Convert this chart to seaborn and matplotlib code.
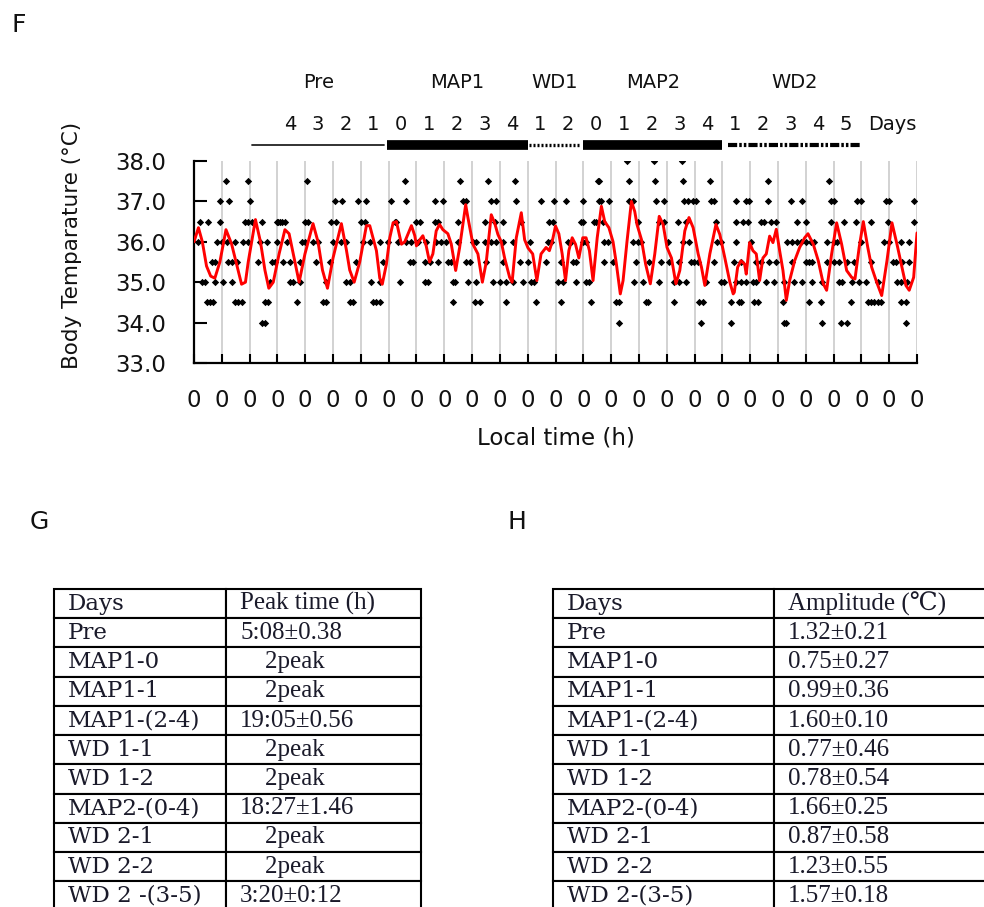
#!/usr/bin/env python3
"""Body temperature time course (F) with peak-time / amplitude tables (G, H)."""

import matplotlib
matplotlib.use("Agg")
import matplotlib.pyplot as plt
import matplotlib.transforms as mtransforms
import pandas as pd
import seaborn as sns

# ---- data -------------------------------------------------------------
# mean body temperature (red trace), x in days from start of record
RED_DAY = [
    0.00, 0.16, 0.30, 0.45, 0.60, 0.75, 0.93, 1.15, 1.35, 1.53, 1.71, 1.85,
    1.95, 2.21, 2.39, 2.55, 2.69, 2.85, 3.06, 3.27, 3.42, 3.63, 3.78, 3.99,
    4.28, 4.46, 4.62, 4.80, 5.00, 5.30, 5.48, 5.60, 5.76, 5.96, 6.20, 6.32,
    6.56, 6.68, 6.77, 6.92, 7.04, 7.16, 7.28, 7.46, 7.58, 7.70, 7.82, 7.94,
    8.00, 8.12, 8.23, 8.35, 8.47, 8.59, 8.71, 8.83, 8.95, 9.13, 9.25, 9.41,
    9.55, 9.67, 9.77, 9.85, 10.03, 10.21, 10.37, 10.51, 10.69, 10.81, 10.93,
    11.05, 11.17, 11.35, 11.44, 11.59, 11.77, 11.89, 12.01, 12.18, 12.33,
    12.48, 12.66, 12.78, 12.88, 13.00, 13.12, 13.24, 13.36, 13.48, 13.60,
    13.72, 13.84, 13.98, 14.10, 14.22, 14.35, 14.50, 14.65, 14.77, 14.92,
    15.07, 15.19, 15.33, 15.43, 15.57, 15.73, 15.85, 15.93, 16.09, 16.24,
    16.41, 16.57, 16.73, 16.87, 17.01, 17.17, 17.33, 17.47, 17.65, 17.80,
    17.95, 18.13, 18.25, 18.37, 18.55, 18.77, 18.91, 19.09, 19.27, 19.39,
    19.43, 19.55, 19.67, 19.80, 19.86, 19.98, 20.10, 20.22, 20.34, 20.46,
    20.58, 20.70, 20.82, 20.94, 21.06, 21.18, 21.30, 21.42, 21.60, 21.78,
    21.96, 22.08, 22.27, 22.45, 22.63, 22.75, 22.93, 23.11, 23.29, 23.47,
    23.65, 23.77, 23.92, 24.07, 24.23, 24.37, 24.55, 24.73, 24.92, 25.10,
    25.28, 25.46, 25.60, 25.72, 25.88, 26.00,
]
RED_TEMP = [
    36.00, 36.35, 36.00, 35.40, 35.15, 35.10, 35.50, 36.30, 35.95, 35.45, 34.95, 35.00,
    35.50, 36.55, 36.00, 35.30, 34.85, 35.00, 35.70, 36.30, 36.20, 35.50, 35.00, 35.70,
    36.45, 36.00, 35.30, 34.85, 35.60, 36.45, 35.80, 35.30, 35.00, 35.50, 36.40, 36.40,
    35.78, 35.10, 34.95, 35.45, 36.10, 36.47, 36.50, 35.94, 36.00, 36.20, 36.40, 36.15,
    35.90, 36.05, 36.15, 35.90, 35.50, 35.70, 36.27, 36.43, 36.30, 36.20, 35.95, 35.29,
    35.85, 36.43, 36.92, 36.60, 35.94, 35.70, 35.00, 35.50, 36.67, 36.47, 36.18,
    36.00, 35.60, 35.12, 35.00, 36.10, 36.72, 36.05, 35.85, 35.70, 35.04,
    35.70, 35.86, 35.78, 36.00, 36.39, 36.20, 35.70, 35.04, 35.78, 36.10,
    35.94, 35.60, 36.10, 36.10, 35.78, 35.04, 36.10, 36.88, 36.50, 36.35,
    36.00, 35.45, 34.71, 35.04, 36.00, 37.00, 36.75, 36.43, 36.06, 35.45,
    34.96, 35.70, 36.63, 36.43, 35.86, 35.60, 34.96, 35.29, 36.27, 36.60,
    36.35, 35.70, 35.37, 34.92, 35.70, 36.43, 36.18, 35.60, 35.00, 34.71,
    34.75, 35.37, 35.53, 35.45, 35.20, 35.98, 35.78, 35.70, 35.04, 35.60,
    35.70, 36.14, 35.98, 36.31, 35.78, 35.29, 34.55, 35.04, 35.53, 35.86,
    36.10, 36.20, 35.94, 35.53, 34.96, 34.80, 35.70, 36.47, 35.94, 35.29,
    35.12, 35.08, 35.86, 36.50, 35.86, 35.37, 35.00, 34.67, 35.53, 36.47,
    35.94, 35.37, 34.92, 34.80, 35.12, 36.22,
]

# individual readings (black dots), grouped by recorded temperature
DOTS_380 = [15.56, 16.55, 17.54]
DOTS_375 = [1.14, 1.95, 4.07, 7.58, 9.55, 10.57, 11.53, 14.52, 14.58, 15.63,
            16.59, 17.57, 18.55, 20.63, 22.84]
DOTS_370 = [0.93, 1.27, 2.01, 5.06, 5.34, 5.90, 6.20, 7.10, 7.64, 8.65, 8.95,
            9.67, 9.79, 10.69, 10.87, 11.59, 12.48, 12.96, 13.38, 13.98, 14.58,
            14.64, 14.93, 15.65, 15.77, 16.61, 16.91, 17.63, 17.75, 17.93,
            18.05, 18.58, 18.70, 19.49, 19.85, 19.97, 20.63, 21.46, 21.88,
            22.90, 23.02, 23.86, 23.98, 24.88, 24.99, 25.89]
DOTS_365 = [0.20, 0.50, 0.93, 1.83, 1.95, 2.07, 2.43, 2.97, 3.03, 3.09, 3.15,
            3.27, 3.99, 4.10, 4.94, 5.12, 6.02, 6.14, 7.22, 7.28, 7.98, 8.12,
            8.65, 8.77, 9.49, 10.45, 10.81, 11.11, 11.77, 12.78, 12.90, 13.92,
            13.98, 14.40, 14.46, 14.70, 15.95, 16.73, 16.91, 17.39, 17.69,
            18.76, 19.49, 19.73, 19.91, 20.39, 20.51, 20.75, 20.93, 21.70,
            22.00, 22.90, 23.38, 23.80, 24.34, 24.94, 25.89]
DOTS_360 = [0.16, 0.81, 0.99, 1.17, 1.47, 1.77, 1.95, 2.37, 2.61, 2.97, 3.33,
            3.87, 3.99, 4.28, 4.46, 5.00, 5.30, 5.48, 6.08, 6.32, 6.68, 6.98,
            7.34, 7.64, 7.82, 8.06, 8.35, 8.71, 8.89, 9.07, 9.49, 10.03, 10.15,
            10.45, 10.69, 10.87, 11.11, 11.47, 12.07, 12.72, 12.84, 13.44,
            13.56, 13.98, 14.10, 14.75, 14.87, 15.77, 15.95, 16.07, 17.03,
            17.57, 17.81, 18.82, 18.94, 19.49, 20.03, 21.34, 21.52, 21.70,
            21.82, 22.00, 22.18, 22.30, 22.78, 23.02, 23.14, 23.98, 24.82,
            24.99, 25.41, 25.71]
DOTS_355 = [0.63, 0.75, 1.23, 1.35, 1.53, 2.31, 2.79, 2.91, 3.21, 3.45, 3.81,
            4.40, 4.88, 5.84, 6.80, 7.76, 7.88, 8.29, 8.47, 8.77, 9.13, 9.25,
            9.79, 9.91, 10.51, 11.11, 11.71, 12.01, 12.66, 13.20, 13.62, 13.74,
            14.75, 15.05, 15.89, 16.37, 16.79, 17.09, 17.45, 17.87, 17.99,
            18.11, 18.70, 19.43, 19.67, 20.21, 20.39, 20.69, 20.93, 21.52,
            22.00, 22.12, 22.24, 22.78, 23.02, 23.20, 23.50, 23.74, 24.34,
            25.12, 25.24, 25.47, 25.71]
DOTS_350 = [0.28, 0.39, 0.75, 1.05, 1.35, 2.73, 3.45, 3.57, 3.81, 4.76, 5.48,
            5.60, 6.38, 6.68, 7.40, 8.29, 8.41, 9.31, 9.37, 9.85, 10.15, 10.75,
            10.99, 11.23, 11.47, 11.83, 12.12, 12.24, 13.08, 13.26, 13.74,
            14.10, 14.22, 15.83, 16.13, 16.73, 17.27, 17.45, 17.69, 18.41,
            18.94, 19.06, 19.49, 19.67, 19.85, 20.09, 20.21, 20.57, 20.87,
            21.23, 21.58, 21.88, 22.24, 22.60, 23.20, 23.32, 23.68, 23.92,
            24.16, 24.58, 25.29, 25.41, 25.65]
DOTS_345 = [0.45, 0.57, 0.69, 1.47, 1.59, 1.71, 2.55, 2.67, 3.69, 4.64, 4.76,
            5.60, 5.72, 6.44, 6.56, 6.68, 9.31, 10.09, 10.27, 11.23, 12.30,
            13.20, 14.28, 15.17, 15.29, 16.25, 16.31, 17.27, 18.17, 18.29,
            19.30, 19.61, 19.67, 20.15, 20.27, 21.17, 22.12, 22.54, 23.62,
            24.22, 24.34, 24.46, 24.58, 24.70, 25.41, 25.59]
DOTS_340 = [2.43, 2.55, 15.29, 18.23, 19.30, 21.23, 21.29, 22.60, 23.26,
            23.50, 25.59]

DOT_GROUPS = {38.0: DOTS_380, 37.5: DOTS_375, 37.0: DOTS_370, 36.5: DOTS_365,
              36.0: DOTS_360, 35.5: DOTS_355, 35.0: DOTS_350, 34.5: DOTS_345,
              34.0: DOTS_340}

N_DAYS = 26
YTICKS = [33.0, 34.0, 35.0, 36.0, 37.0, 38.0]
XTICK_LABELS = ["0"] * (N_DAYS + 1)

# experimental phases drawn above the plot
PHASES = ["Pre", "MAP1", "WD1", "MAP2", "WD2"]
PHASE_START = [2.1, 6.95, 12.05, 14.0, 19.2]
PHASE_END = [6.85, 12.0, 13.9, 19.0, 24.0]
PHASE_FIRST_DAY = [3, 7, 12, 14, 19]
PHASE_DAY_LABELS = [["4", "3", "2", "1"], ["0", "1", "2", "3", "4"],
                    ["1", "2"], ["0", "1", "2", "3", "4"],
                    ["1", "2", "3", "4", "5"]]

# tables
TABLE_DAYS_G = ["Pre", "MAP1-0", "MAP1-1", "MAP1-(2-4)", "WD 1-1", "WD 1-2",
                "MAP2-(0-4)", "WD 2-1", "WD 2-2", "WD 2 -(3-5)"]
TABLE_DAYS_H = ["Pre", "MAP1-0", "MAP1-1", "MAP1-(2-4)", "WD 1-1", "WD 1-2",
                "MAP2-(0-4)", "WD 2-1", "WD 2-2", "WD 2-(3-5)"]
PEAK_TIME = ["5:08\u00b10.38", "    2peak", "    2peak", "19:05\u00b10.56",
             "    2peak", "    2peak", "18:27\u00b11.46", "    2peak",
             "    2peak", "3:20\u00b10:12"]
AMPLITUDE = ["1.32\u00b10.21", "0.75\u00b10.27", "0.99\u00b10.36",
             "1.60\u00b10.10", "0.77\u00b10.46", "0.78\u00b10.54",
             "1.66\u00b10.25", "0.87\u00b10.58", "1.23\u00b10.55",
             "1.57\u00b10.18"]

W, H = 984, 907
SANS = ["DejaVu Sans"]
SERIF_DAYS = ["DejaVu Serif", "DejaVu Sans"]
SERIF_VALUES = ["Liberation Serif", "DejaVu Serif", "DejaVu Sans"]


def px_box(left, top, right, bottom):
    """Figure-fraction rect from pixel edges."""
    return [left / W, 1 - bottom / H, (right - left) / W, (bottom - top) / H]


def setup_style():
    sns.set_theme(style="white")
    plt.rcParams.update({
        "font.family": SANS,
        "axes.linewidth": 1.5,
        "text.color": "#111111",
        "axes.labelcolor": "#111111",
        "xtick.color": "black",
        "ytick.color": "black",
        "xtick.labelcolor": "#111111",
        "ytick.labelcolor": "#111111",
    })


def draw_temperature(fig):
    ax = fig.add_axes(px_box(194, 161, 917, 363))

    dots = pd.DataFrame(
        [(d, t) for t, days in DOT_GROUPS.items() for d in days],
        columns=["day", "temp"],
    )
    sns.scatterplot(data=dots, x="day", y="temp", color="black", s=14,
                    marker="D", linewidth=0, ax=ax, zorder=3)
    sns.lineplot(x=RED_DAY, y=RED_TEMP, color="#ff0000", lw=2.1,
                 errorbar=None, ax=ax, zorder=4)

    ax.set_xlim(0, N_DAYS)
    ax.set_ylim(YTICKS[0], YTICKS[-1])
    ax.set_xticks(range(N_DAYS + 1))
    ax.set_xticklabels(XTICK_LABELS)
    ax.set_yticks(YTICKS)
    ax.set_yticklabels([f"{t:.1f}" for t in YTICKS])
    ax.grid(axis="x", color="#cfcfcf", lw=1.3)
    ax.set_axisbelow(True)
    for side in ("top", "right"):
        ax.spines[side].set_visible(False)
    for side in ("left", "bottom"):
        ax.spines[side].set_color("black")
        ax.spines[side].set_linewidth(1.6)
    ax.tick_params(axis="x", direction="in", length=6.5, width=1.5,
                   pad=19, labelsize=16.5, bottom=True)
    ax.tick_params(axis="y", direction="in", length=9, width=1.5,
                   pad=20, labelsize=16.5, left=True)

    ax.set_xlabel("Local time (h)", fontsize=16.5)
    ax.set_ylabel("Body Temparature (\u00b0C)", fontsize=15.5)
    ax.xaxis.set_label_coords(0.5, -0.315)
    ax.yaxis.set_label_coords(-0.155, 0.58)

    # phase bars and labels above the axes
    trans = mtransforms.blended_transform_factory(ax.transData, ax.transAxes)
    bar_styles = [
        dict(lw=1.3, ls="-", color="#222222"),
        dict(lw=7, ls="-", color="black", solid_capstyle="butt"),
        dict(lw=2.4, ls=(0, (0.6, 0.6)), color="black"),
        dict(lw=7, ls="-", color="black", solid_capstyle="butt"),
        dict(lw=3, ls=(0, (2.2, 0.5, 0.6, 0.5, 0.6, 0.5)), color="black"),
    ]
    for name, x0, x1, first, labels, style in zip(
            PHASES, PHASE_START, PHASE_END, PHASE_FIRST_DAY,
            PHASE_DAY_LABELS, bar_styles):
        ax.plot([x0, x1], [1.079, 1.079], transform=trans, clip_on=False,
                **style)
        ax.text((x0 + x1) / 2, 1.39, name, transform=trans, ha="center",
                va="center", fontsize=14)
        for i, lab in enumerate(labels):
            ax.text(first + i + 0.45, 1.183, lab, transform=trans,
                    ha="center", va="center", fontsize=14)
    ax.text(25.1, 1.183, "Days", transform=trans, ha="center", va="center",
            fontsize=14)
    return ax


def draw_table(fig, rect, header, days, values, col_px):
    tax = fig.add_axes(rect)
    tax.axis("off")
    rows = [header] + [[d, v] for d, v in zip(days, values)]
    total = sum(col_px)
    table = tax.table(cellText=rows, cellLoc="left", loc="center",
                      colWidths=[c / total for c in col_px], bbox=[0, 0, 1, 1])
    table.auto_set_font_size(False)
    for (r, c), cell in table.get_celld().items():
        cell.set_linewidth(1.5)
        cell.set_edgecolor("black")
        cell.PAD = 14 / col_px[c]
        txt = cell.get_text()
        if c == 0:
            txt.set_fontsize(16.5)
            txt.set_fontfamily(SERIF_DAYS)
        else:
            txt.set_fontsize(18)
            txt.set_fontfamily(SERIF_VALUES)
        txt.set_color("#1a1a2a")
    return table


def main():
    setup_style()
    fig = plt.figure(figsize=(W / 100, H / 100), dpi=100)
    fig.patch.set_facecolor("white")

    draw_temperature(fig)

    fig.text(12 / W, 1 - 25 / H, "F", fontsize=18, va="center", ha="left")
    fig.text(30 / W, 1 - 522 / H, "G", fontsize=18, va="center", ha="left")
    fig.text(507 / W, 1 - 522 / H, "H", fontsize=18, va="center", ha="left")

    draw_table(fig, px_box(54, 589, 421, 910.5),
               ["Days", "Peak time (h)"], TABLE_DAYS_G, PEAK_TIME, [172, 195])
    draw_table(fig, px_box(553, 589, 1010, 910.5),
               ["Days", "Amplitude (\u2103)"], TABLE_DAYS_H, AMPLITUDE,
               [221, 236])

    fig.savefig("out.png", dpi=100, facecolor="white")


if __name__ == "__main__":
    main()
